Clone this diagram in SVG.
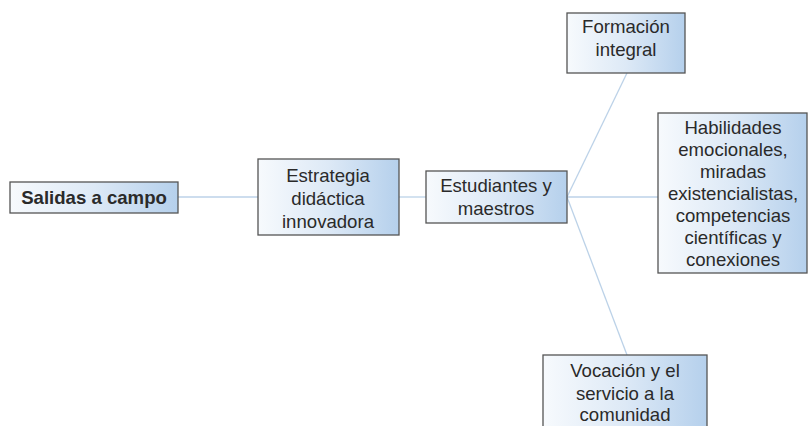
<svg xmlns="http://www.w3.org/2000/svg" width="809" height="426" viewBox="0 0 809 426">
<defs>
<linearGradient id="g" x1="0" y1="0" x2="1" y2="0">
<stop offset="0" stop-color="#f7fafd"/>
<stop offset="0.5" stop-color="#dde9f6"/>
<stop offset="1" stop-color="#b5d0ec"/>
</linearGradient>
<style>
.box{fill:url(#g);stroke:#555;stroke-width:1.3}
.t{font-family:"Liberation Sans",Arial,sans-serif;font-size:18.6px;fill:#2a2a2a;text-anchor:middle}
.b{font-weight:bold}
.c{stroke:#bcd2e8;stroke-width:1.3;fill:none}
</style>
</defs>
<rect width="809" height="426" fill="#fff"/>
<g id="connectors">
<line class="c" x1="178" y1="197" x2="258" y2="197"/>
<line class="c" x1="399" y1="197" x2="426" y2="197"/>
<line class="c" x1="567" y1="197" x2="627" y2="73"/>
<line class="c" x1="567" y1="197" x2="658" y2="197"/>
<line class="c" x1="567" y1="197" x2="627" y2="355"/>
</g>
<g id="salidas">
<rect class="box" x="10" y="182" width="168" height="31"/>
<text class="t b" x="94" y="204">Salidas a campo</text>
</g>
<g id="estrategia">
<rect class="box" x="258" y="159" width="141" height="76"/>
<text class="t" x="328" y="182">Estrategia</text>
<text class="t" x="328" y="205">didáctica</text>
<text class="t" x="328" y="228">innovadora</text>
</g>
<g id="estudiantes">
<rect class="box" x="426" y="171" width="141" height="52"/>
<text class="t" x="496" y="192">Estudiantes y</text>
<text class="t" x="496" y="215">maestros</text>
</g>
<g id="formacion">
<rect class="box" x="567" y="13" width="118" height="60"/>
<text class="t" x="626" y="33">Formación</text>
<text class="t" x="626" y="56">integral</text>
</g>
<g id="habilidades">
<rect class="box" x="658" y="113" width="149" height="160"/>
<text class="t" x="733" y="134">Habilidades</text>
<text class="t" x="733" y="156">emocionales,</text>
<text class="t" x="733" y="178">miradas</text>
<text class="t" x="733" y="200">existencialistas,</text>
<text class="t" x="733" y="222">competencias</text>
<text class="t" x="733" y="244">científicas y</text>
<text class="t" x="733" y="266">conexiones</text>
</g>
<g id="vocacion">
<rect class="box" x="543" y="355" width="164" height="80"/>
<text class="t" x="625" y="377">Vocación y el</text>
<text class="t" x="625" y="400">servicio a la</text>
<text class="t" x="625" y="421">comunidad</text>
</g>
</svg>
